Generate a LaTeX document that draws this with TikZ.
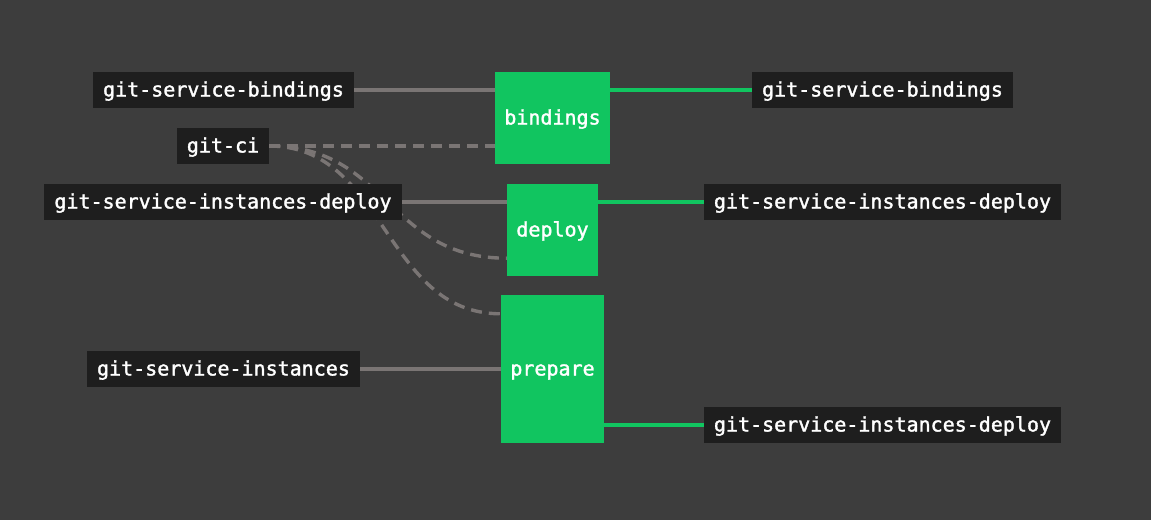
\documentclass[tikz,border=0pt]{standalone}
\usepackage{fontspec}
\newfontfamily\labelfont[FakeBold=1.6]{DejaVu Sans Mono}
\definecolor{bg}{HTML}{3D3D3D}
\definecolor{lbl}{HTML}{1E1E1E}
\definecolor{jobgreen}{HTML}{11C560}
\definecolor{edgegray}{HTML}{7A7574}
\pgfdeclarelayer{edges}
\pgfsetlayers{edges,main}
\tikzset{
  res/.style={fill=lbl, text=white, inner xsep=10pt, inner ysep=0pt, minimum height=36pt,
    text height=17pt, text depth=4pt, font=\labelfont\fontsize{20}{24}\selectfont},
  job/.style={fill=jobgreen, text=white, inner sep=0pt,
    text height=17pt, text depth=4pt, font=\labelfont\fontsize{20}{24}\selectfont},
  inedge/.style={draw=edgegray, line width=3.4pt},
  trig/.style={draw=edgegray, line width=3.4pt, dash pattern=on 11pt off 7pt},
  outedge/.style={draw=jobgreen, line width=3.4pt},
}
\begin{document}
\begin{tikzpicture}[x=1pt,y=-1pt]
\begin{pgfonlayer}{edges}
\fill[bg] (0,0) rectangle (1151,520);
\end{pgfonlayer}
\useasboundingbox (0,0) rectangle (1151,520);
% left resources
\node[res] (lb) at (223.5,90) {git-service-bindings};
\node[res] (gitci) at (223,146) {git-ci};
\node[res] (lsid) at (223,202) {git-service-instances-deploy};
\node[res] (lsi) at (223.5,369) {git-service-instances};
% jobs
\node[job, minimum width=115pt, minimum height=92pt] (bindings) at (552.5,118) {bindings};
\node[job, minimum width=91pt, minimum height=92pt] (deploy) at (552.5,230) {deploy};
\node[job, minimum width=103pt, minimum height=148pt] (prepare) at (552.5,369) {prepare};
% right resources
\node[res] (rb) at (882.5,90) {git-service-bindings};
\node[res] (rd) at (882.5,202) {git-service-instances-deploy};
\node[res] (rp) at (882.5,425) {git-service-instances-deploy};
\begin{pgfonlayer}{edges}
% input edges
\draw[inedge] (lb.east) -- (lb.east -| bindings.west);
\draw[inedge] (lsid.east) -- (lsid.east -| deploy.west);
\draw[inedge] (lsi.east) -- (lsi.east -| prepare.west);
% dashed edges
\draw[trig] (gitci.east) -- (gitci.east -| bindings.west);
\draw[trig] (gitci.east) .. controls +(119,0) and +(-120,0) .. ([yshift=18pt]deploy.south west);
\draw[trig] (gitci.east) .. controls +(117,0) and +(-117,0) .. ([yshift=-19pt]prepare.north west);
% output edges
\draw[outedge] (bindings.east |- rb.west) -- (rb.west);
\draw[outedge] (deploy.east |- rd.west) -- (rd.west);
\draw[outedge] (prepare.east |- rp.west) -- (rp.west);
\end{pgfonlayer}
\end{tikzpicture}
\end{document}
